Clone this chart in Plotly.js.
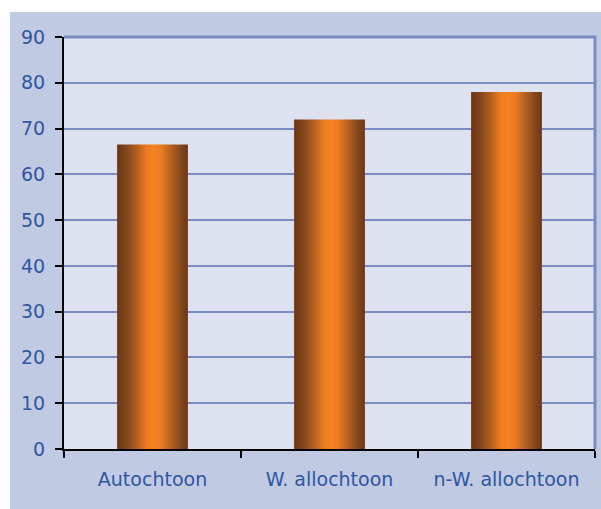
<!DOCTYPE html>
<html>
<head>
<meta charset="utf-8">
<script src="https://cdn.plot.ly/plotly-3.0.1.min.js"></script>
<style>
html,body{margin:0;padding:0;background:#ffffff;}
#chart{position:absolute;left:10px;top:12px;width:591px;height:497px;}
</style>
</head>
<body>
<div id="chart"></div>
<script>
const categories = ["Autochtoon", "W. allochtoon", "n-W. allochtoon"];
const values = [66.5, 72, 78];
const yTicks = [0, 10, 20, 30, 40, 50, 60, 70, 80, 90];

const gridColor = "#7b8cc4";
const labelColor = "#2f56a0";

const trace = {
  type: "bar",
  x: categories,
  y: values,
  marker: {color: "#f47f20", line: {width: 0}},
  hoverinfo: "skip"
};

const layout = {
  width: 591,
  height: 497,
  margin: {l: 54, r: 6, t: 25, b: 60},
  paper_bgcolor: "#c0cbe3",
  plot_bgcolor: "#dde1f0",
  bargap: 0.6,
  showlegend: false,
  font: {family: "DejaVu Sans, Verdana, sans-serif", size: 19, color: labelColor},
  xaxis: {
    type: "category",
    showgrid: false,
    showline: true,
    linecolor: "#000000",
    linewidth: 2,
    ticks: "outside",
    tickson: "boundaries",
    ticklen: 7,
    tickwidth: 2,
    tickcolor: "#000000",
    ticklabelstandoff: 12,
    tickfont: {size: 19, color: labelColor},
    zeroline: false
  },
  yaxis: {
    range: [0, 90],
    tickvals: yTicks,
    ticktext: yTicks.map(String),
    showgrid: true,
    gridcolor: gridColor,
    gridwidth: 2,
    showline: true,
    linecolor: "#000000",
    linewidth: 2,
    ticks: "outside",
    ticklen: 7,
    tickwidth: 2,
    tickcolor: "#000000",
    ticklabelstandoff: 6,
    tickfont: {size: 19, color: labelColor},
    zeroline: false
  },
  shapes: [{
    type: "path",
    xref: "paper", yref: "paper",
    path: "M 0,1 L 1,1 L 1,0",
    line: {color: gridColor, width: 3},
    layer: "above"
  }]
};

Plotly.newPlot("chart", [trace], layout, {displayModeBar: false, staticPlot: true}).then(function (gd) {
  const svg = gd.querySelector("svg.main-svg");
  const ns = "http://www.w3.org/2000/svg";
  let defs = svg.querySelector("defs");
  if (!defs) { defs = document.createElementNS(ns, "defs"); svg.insertBefore(defs, svg.firstChild); }
  const grad = document.createElementNS(ns, "linearGradient");
  grad.setAttribute("id", "barGrad");
  grad.setAttribute("x1", "0"); grad.setAttribute("y1", "0");
  grad.setAttribute("x2", "1"); grad.setAttribute("y2", "0");
  const stops = [
    [0, "#693716"], [0.12, "#7f441a"], [0.28, "#b35f20"], [0.42, "#ee7c21"],
    [0.52, "#f58120"], [0.62, "#ec7b21"], [0.78, "#b05e21"], [0.9, "#85471b"], [1, "#693716"]
  ];
  stops.forEach(function (s) {
    const st = document.createElementNS(ns, "stop");
    st.setAttribute("offset", s[0]);
    st.setAttribute("stop-color", s[1]);
    grad.appendChild(st);
  });
  defs.appendChild(grad);
  gd.querySelectorAll(".bars .point path").forEach(function (p) {
    p.style.fill = "url(#barGrad)";
  });
});
</script>
</body>
</html>
